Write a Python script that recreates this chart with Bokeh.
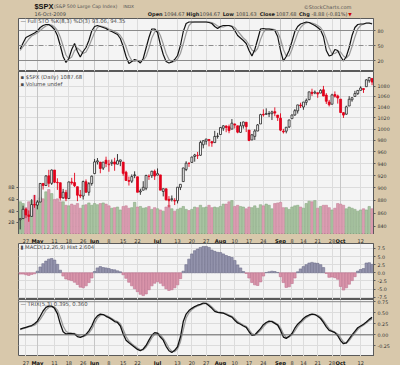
import numpy as np
from bokeh.plotting import figure
from bokeh.layouts import column
from bokeh.models import (Range1d, LinearScale, LinearAxis, FixedTicker, Grid, Span,
                          Label, ColumnDataSource, PrintfTickFormatter)
from bokeh.core.properties import value
from bokeh.embed import file_html
from bokeh.resources import INLINE

# ---------------- data (23-Apr-2009 .. 16-Oct-2009, daily) ----------------
bar_index = list(range(-2, 122))

opens = [850.1, 851.9, 866.2, 857.5, 855.2, 873.6, 872.7, 877.5, 907.2, 903.8,
         919.6, 907.4, 929.2, 909.0, 908.4, 884.2, 892.8, 883.0, 909.7, 908.6,
         901.9, 888.7, 887.0, 909.9, 893.0, 907.0, 923.3, 942.9, 942.5, 932.5,
         945.7, 938.1, 940.4, 942.7, 939.0, 943.4, 942.5, 925.6, 911.9, 910.9,
         920.0, 918.1, 893.5, 896.3, 899.5, 918.8, 919.9, 927.2, 920.8, 921.2,
         894.3, 898.6, 881.9, 881.3, 880.0, 879.6, 900.8, 910.2, 930.2, 940.6,
         942.1, 952.0, 953.4, 954.1, 972.2, 978.6, 981.5, 977.7, 976.0, 986.8,
         990.2, 1001.4, 1005.4, 1004.1, 999.8, 1008.9, 1005.8, 994.0, 1005.9, 1012.2,
         998.2, 980.6, 986.9, 996.4, 1009.1, 1026.6, 1026.6, 1027.4, 1027.8, 1031.6,
         1025.2, 1019.5, 996.1, 996.1, 1003.8, 1018.7, 1025.4, 1033.0, 1043.9, 1040.2,
         1049.0, 1054.0, 1067.9, 1066.6, 1067.1, 1066.4, 1072.7, 1062.6, 1049.5, 1045.4,
         1063.7, 1061.0, 1054.9, 1029.7, 1026.9, 1042.0, 1053.7, 1060.0, 1065.3, 1071.6,
         1075.0, 1078.7, 1090.4, 1094.7]

highs = [852.0, 871.8, 868.3, 864.5, 882.1, 888.7, 880.5, 907.9, 907.7, 920.3,
         929.6, 930.2, 929.2, 915.6, 908.4, 898.4, 896.9, 910.0, 916.4, 924.6,
         901.9, 896.7, 911.8, 913.8, 909.5, 920.0, 947.8, 949.4, 942.5, 942.5,
         951.7, 946.3, 946.9, 949.8, 956.2, 946.3, 942.5, 928.0, 918.4, 922.0,
         927.1, 918.1, 898.7, 910.9, 921.4, 922.0, 928.0, 930.0, 931.9, 921.2,
         898.7, 898.6, 886.8, 887.9, 883.6, 901.1, 905.8, 933.0, 944.0, 941.9,
         951.6, 956.5, 959.8, 979.4, 979.8, 982.5, 982.2, 977.8, 996.7, 993.2,
         1003.6, 1007.1, 1006.6, 1008.0, 1018.0, 1010.1, 1005.8, 1012.8, 1013.1, 1012.6,
         998.2, 991.2, 999.6, 1008.9, 1027.6, 1035.8, 1037.8, 1032.5, 1033.3, 1039.5,
         1025.2, 1028.5, 1000.3, 1003.4, 1016.5, 1026.1, 1036.3, 1044.1, 1048.2, 1049.7,
         1056.0, 1068.8, 1074.8, 1071.5, 1067.3, 1073.8, 1080.2, 1066.3, 1053.5, 1065.1,
         1069.6, 1063.4, 1054.9, 1030.6, 1042.6, 1060.6, 1058.0, 1070.7, 1071.5, 1079.5,
         1075.3, 1093.2, 1096.6, 1094.7]

lows = [835.6, 851.9, 852.7, 847.1, 855.2, 868.5, 866.1, 877.5, 897.3, 903.8,
        901.4, 904.8, 907.8, 896.8, 879.9, 882.5, 878.9, 883.0, 905.2, 901.4,
        878.9, 883.8, 881.5, 891.9, 887.6, 903.6, 923.3, 938.5, 923.9, 929.3,
        934.1, 926.4, 936.2, 928.0, 939.0, 935.7, 919.7, 911.6, 903.8, 907.9,
        915.8, 893.0, 888.9, 896.3, 896.3, 913.0, 916.2, 912.9, 920.8, 896.4,
        886.4, 879.9, 869.3, 878.4, 872.8, 875.3, 896.5, 910.2, 927.5, 934.5,
        941.0, 943.2, 947.8, 953.3, 966.0, 972.3, 969.4, 968.7, 976.0, 982.9,
        990.2, 996.7, 994.3, 992.5, 999.8, 1001.0, 992.4, 993.4, 1000.8, 994.6,
        978.5, 980.6, 980.6, 996.4, 1009.1, 1022.5, 1026.2, 1021.6, 1016.2, 1023.1,
        1014.6, 996.3, 992.0, 992.3, 1001.7, 1018.7, 1024.0, 1028.0, 1038.4, 1035.0,
        1043.4, 1052.9, 1061.0, 1064.3, 1057.5, 1066.4, 1060.4, 1045.9, 1041.2, 1045.4,
        1057.8, 1046.5, 1029.5, 1020.0, 1025.9, 1042.0, 1050.1, 1060.0, 1063.0, 1071.6,
        1066.7, 1078.7, 1086.4, 1081.6]

closes = [851.9, 866.2, 857.5, 855.2, 873.6, 872.8, 877.5, 907.2, 903.8, 919.5,
          907.4, 929.2, 909.2, 908.4, 883.9, 893.1, 882.9, 909.7, 908.1, 903.5,
          888.3, 887.0, 910.3, 893.1, 906.8, 919.1, 942.9, 944.7, 931.8, 942.5,
          940.1, 939.1, 942.4, 939.2, 944.9, 946.2, 923.7, 912.0, 910.7, 918.4,
          921.2, 893.0, 895.1, 900.9, 920.3, 918.9, 927.2, 919.3, 923.3, 896.4,
          898.7, 881.0, 879.6, 882.7, 879.1, 901.1, 905.8, 932.7, 940.7, 940.4,
          951.1, 954.6, 954.1, 976.3, 979.3, 982.2, 979.6, 975.2, 986.8, 987.5,
          1002.6, 1005.7, 1002.7, 997.1, 1010.5, 1007.1, 994.4, 1005.8, 1012.7, 1004.1,
          979.7, 989.7, 996.5, 1007.4, 1026.1, 1025.6, 1028.0, 1028.1, 1031.0, 1028.9,
          1020.6, 998.0, 994.8, 1003.2, 1016.4, 1025.4, 1033.4, 1044.1, 1042.7, 1049.3,
          1052.6, 1068.8, 1065.5, 1068.3, 1064.7, 1071.7, 1060.9, 1050.8, 1044.4, 1063.0,
          1060.6, 1057.1, 1029.9, 1025.2, 1040.5, 1054.7, 1057.6, 1065.5, 1071.5, 1076.2,
          1073.2, 1092.0, 1096.6, 1087.7]
prev_close_first = 850.1

volumes_b = [5.6, 5.3, 4.6, 5.6, 5.8, 6.7, 5.6, 6.3, 6.1, 7.3,
             7.7, 7.0, 6.0, 6.1, 5.6, 5.6, 5.0, 4.9, 5.2, 5.0,
             5.3, 4.5, 5.0, 5.1, 5.4, 5.0, 5.3, 5.1, 5.3, 5.4,
             5.2, 4.9, 4.5, 4.6, 4.7, 4.2, 4.8, 4.9, 4.5, 4.6,
             5.5, 4.7, 4.8, 4.5, 4.6, 4.8, 4.3, 4.6, 4.4, 4.2,
             4.0, 4.7, 5.0, 4.4, 4.0, 4.3, 4.5, 4.8, 4.3, 4.1,
             4.3, 4.7, 4.6, 5.0, 4.6, 4.7, 5.0, 4.6, 4.7, 4.6,
             4.8, 5.2, 5.2, 5.6, 5.8, 4.8, 5.0, 4.8, 4.7, 4.4,
             4.7, 4.6, 4.9, 4.5, 5.1, 4.9, 5.2, 5.0, 4.4, 5.3,
             5.4, 5.5, 4.6, 4.6, 4.3, 4.7, 4.9, 5.0, 4.7, 4.5,
             5.3, 5.7, 5.6, 5.8, 4.5, 4.8, 5.0, 5.0, 4.6, 4.2,
             4.5, 5.3, 5.2, 5.0, 4.4, 4.7, 4.5, 4.3, 4.0, 4.2,
             4.4, 4.2, 4.8, 4.4]

sto_k = [43, 55, 66, 69, 72, 75, 79, 86, 90, 92,
         92, 88, 82, 70, 50, 28, 16, 24, 42, 54,
         38, 27, 38, 46, 60, 79, 88, 90, 88, 86,
         84, 80, 78, 75, 72, 64, 48, 28, 14, 18,
         22, 20, 15, 24, 45, 66, 83, 83, 76, 52,
         32, 18, 15, 17, 22, 30, 50, 78, 94, 97,
         97, 97, 97, 97, 97, 97, 96, 94, 88, 84,
         88, 90, 90, 90, 88, 80, 70, 65, 60, 54,
         40, 29, 42, 62, 83, 84, 83, 83, 82, 80,
         68, 40, 19, 28, 40, 58, 78, 88, 93, 95,
         97, 96, 93, 90, 86, 81, 68, 40, 29, 31,
         42, 40, 28, 19, 28, 46, 70, 86, 92, 93,
         93, 95, 95, 93.06]

sto_d = [40, 48, 55, 63, 69, 72, 75, 80, 85, 89,
         91, 91, 87, 80, 67, 49, 31, 23, 27, 40,
         45, 40, 34, 37, 48, 62, 76, 86, 89, 88,
         86, 83, 81, 78, 75, 70, 61, 47, 30, 20,
         18, 20, 19, 20, 28, 45, 65, 77, 81, 70,
         53, 34, 22, 17, 18, 23, 34, 53, 74, 90,
         96, 97, 97, 97, 97, 97, 97, 96, 93, 89,
         87, 87, 89, 90, 89, 86, 79, 72, 65, 60,
         51, 41, 37, 44, 62, 76, 83, 83, 83, 82,
         77, 63, 42, 29, 29, 42, 59, 75, 86, 92,
         95, 96, 95, 93, 90, 86, 78, 63, 46, 33,
         34, 38, 37, 29, 25, 31, 48, 67, 83, 90,
         93, 94, 94.3, 94.35]

macd_hist = [-0.4, -0.4, -0.6, -0.8, -0.5, -0.3, 0.5, 1.8, 2.8, 3.6,
             4.2, 4.4, 3.9, 2.6, 0.8, -1.0, -1.9, -2.2, -2.4, -2.9,
             -3.6, -4.4, -4.6, -4.0, -3.0, -1.6, 0.4, 1.5, 1.9, 1.6,
             1.5, 1.3, 1.0, 0.9, 0.6, 0.3, -0.6, -1.7, -2.9, -4.0,
             -4.9, -5.8, -6.6, -7.0, -6.5, -5.2, -4.0, -3.2, -2.7, -3.2,
             -4.0, -4.9, -5.4, -5.2, -4.6, -3.7, -1.8, 0.5, 2.5, 4.2,
             5.8, 6.8, 7.3, 7.8, 8.1, 8.1, 7.8, 7.0, 6.6, 6.3,
             6.2, 5.8, 5.3, 5.0, 4.7, 3.8, 2.4, 1.5, 0.4, -0.2,
             -1.6, -3.0, -3.7, -3.9, -2.8, -1.0, 0.1, 0.3, 0.5, 0.4,
             0.1, -1.2, -3.0, -4.5, -4.3, -3.3, -1.6, 0.3, 1.2, 1.9,
             2.5, 3.0, 3.2, 3.0, 2.9, 2.5, 1.6, -0.2, -1.4, -1.3,
             -1.5, -2.0, -4.2, -5.3, -4.6, -3.5, -2.4, -1.2, 0.5, 1.0,
             1.3, 3.0, 3.1, 2.604]

trix = [0.13, 0.15, 0.17, 0.19, 0.21, 0.25, 0.31, 0.42, 0.54, 0.62,
        0.65, 0.65, 0.60, 0.48, 0.25, 0.07, 0.02, 0.03, 0.03, 0.02,
        -0.04, -0.06, -0.03, 0.01, 0.09, 0.20, 0.35, 0.43, 0.47, 0.46,
        0.42, 0.39, 0.35, 0.30, 0.28, 0.20, 0.02, -0.12, -0.18, -0.23,
        -0.28, -0.33, -0.36, -0.32, -0.24, -0.12, -0.01, 0.05, 0.04, -0.05,
        -0.12, -0.26, -0.36, -0.40, -0.35, -0.27, -0.05, 0.30, 0.47, 0.55,
        0.60, 0.64, 0.67, 0.69, 0.72, 0.71, 0.66, 0.60, 0.53, 0.51,
        0.50, 0.49, 0.46, 0.43, 0.40, 0.33, 0.27, 0.24, 0.20, 0.17,
        0.07, -0.01, 0.00, 0.07, 0.14, 0.23, 0.28, 0.31, 0.30, 0.26,
        0.22, 0.10, -0.05, -0.08, -0.03, 0.03, 0.15, 0.24, 0.30, 0.37,
        0.42, 0.45, 0.47, 0.46, 0.42, 0.37, 0.28, 0.18, 0.10, 0.08,
        0.05, -0.02, -0.13, -0.20, -0.18, -0.09, 0.00, 0.08, 0.16, 0.20,
        0.24, 0.29, 0.35, 0.395]

trix_signal = [0.12, 0.14, 0.16, 0.18, 0.20, 0.22, 0.27, 0.35, 0.45, 0.56,
               0.62, 0.64, 0.63, 0.56, 0.40, 0.20, 0.08, 0.04, 0.03, 0.03,
               0.00, -0.04, -0.04, -0.01, 0.04, 0.13, 0.26, 0.38, 0.44, 0.46,
               0.44, 0.41, 0.37, 0.33, 0.30, 0.25, 0.12, -0.04, -0.14, -0.20,
               -0.25, -0.30, -0.34, -0.34, -0.28, -0.18, -0.07, 0.01, 0.04, 0.00,
               -0.08, -0.18, -0.30, -0.37, -0.38, -0.32, -0.16, 0.12, 0.38, 0.50,
               0.57, 0.62, 0.65, 0.68, 0.70, 0.71, 0.69, 0.63, 0.57, 0.52,
               0.51, 0.50, 0.48, 0.45, 0.42, 0.37, 0.30, 0.26, 0.22, 0.19,
               0.12, 0.03, 0.00, 0.04, 0.10, 0.18, 0.25, 0.29, 0.31, 0.28,
               0.24, 0.16, 0.02, -0.06, -0.05, 0.00, 0.09, 0.19, 0.27, 0.33,
               0.39, 0.43, 0.46, 0.46, 0.44, 0.40, 0.32, 0.23, 0.14, 0.09,
               0.06, 0.02, -0.07, -0.16, -0.19, -0.13, -0.04, 0.04, 0.12, 0.18,
               0.22, 0.27, 0.32, 0.36]

day_tick_index = [0, 10, 15, 20, 29, 34, 39, 53, 58, 63, 73, 78, 83, 93, 97, 102, 107, 117]
day_tick_text = ["27", "11", "18", "26", "8", "15", "22", "13", "20", "27", "10", "17", "24",
                 "8", "14", "21", "28", "12"]
month_tick_index = [4, 24, 46, 68, 89, 110]
month_tick_text = ["May", "Jun", "Jul", "Aug", "Sep", "Oct"]

price_ticks = [840, 860, 880, 900, 920, 940, 960, 980, 1000, 1020, 1040, 1060, 1080]
volume_ticks = [2, 4, 6, 8]
sto_levels = [20, 50, 80]
macd_ticks = [-7.5, -5.0, -2.5, 0.0, 2.5, 5.0, 7.5]
trix_ticks = [-0.25, 0.0, 0.25, 0.5, 0.75]

n = len(bar_index)
for arr in (opens, highs, lows, closes, volumes_b, sto_k, sto_d, macd_hist, trix, trix_signal):
    assert len(arr) == n, len(arr)

# ---------------- styling ----------------
TAN = "#d8c8ab"
PLOT_BG = "#f4f4f4"
GRID = "#dcdcdc"
MONTH_GRID = "#c6c6c6"
FRAME = "#5a5a5a"
FONT = "DejaVu Sans"
TXT = "#333333"

XR = Range1d(-2.6, 121.5)


def style_axis(ax):
    ax.major_label_text_font = FONT
    ax.major_label_text_font_size = "4.8px"
    ax.major_label_text_color = TXT
    ax.major_tick_in = 0
    ax.major_tick_out = 2
    ax.minor_tick_line_color = None
    ax.major_tick_line_color = FRAME
    ax.axis_line_color = FRAME
    ax.major_label_standoff = 2


def panel(h, y_range, y_type="linear"):
    p = figure(width=400, height=h, x_range=XR, y_range=y_range, y_axis_type=y_type,
               x_axis_location=None, y_axis_location="right", toolbar_location=None,
               output_backend="svg", min_border_left=18, min_border_right=27,
               min_border_top=0, min_border_bottom=0, title=None)
    p.border_fill_color = TAN
    p.background_fill_color = PLOT_BG
    p.outline_line_color = FRAME
    p.outline_line_width = 1
    for g in p.xgrid:
        g.visible = False
    p.add_layout(Grid(dimension=0, ticker=FixedTicker(ticks=day_tick_index),
                      grid_line_color=GRID, grid_line_width=1))
    p.add_layout(Grid(dimension=0, ticker=FixedTicker(ticks=month_tick_index),
                      grid_line_color=MONTH_GRID, grid_line_width=1))
    p.ygrid.grid_line_color = GRID
    style_axis(p.yaxis[0])
    return p


def date_strip(h):
    d = figure(width=400, height=h, x_range=XR, y_range=Range1d(0, 1),
               x_axis_location=None, y_axis_location=None, toolbar_location=None,
               output_backend="svg", min_border_left=18, min_border_right=27,
               min_border_top=0, min_border_bottom=0, title=None)
    d.border_fill_color = TAN
    d.background_fill_color = TAN
    d.outline_line_color = None
    d.grid.visible = False
    ypos = h / 2.0 + 1.3
    for i, t in zip(day_tick_index, day_tick_text):
        d.add_layout(Label(x=i, y=ypos, y_units="screen", text=t, text_font=FONT,
                           text_font_size="5.0px", text_color="#333333",
                           text_align="center", text_baseline="middle"))
    for i, t in zip(month_tick_index, month_tick_text):
        d.add_layout(Label(x=i, y=ypos, y_units="screen", text=t, text_font=FONT,
                           text_font_size="5.2px", text_font_style="bold",
                           text_color="#111111", text_align="center", text_baseline="middle"))
    return d


def legend_label(p, y, text):
    p.add_layout(Label(x=2, y=y, x_units="screen", y_units="screen", text=text,
                       text_font=FONT, text_font_size="5.3px", text_color="#4a4a4a",
                       text_baseline="middle"))


def value_box(p, y, text, y_range_name="default"):
    p.add_layout(Label(x=357, y=y, x_units="screen", text=text, y_range_name=y_range_name,
                       text_font=FONT, text_font_size="4.8px", text_color="#111111",
                       text_baseline="middle", background_fill_color="white",
                       border_line_color="#222222", border_line_width=0.7, padding=1))


# ---------------- header ----------------
hdr = figure(width=400, height=18, x_range=Range1d(0, 400), y_range=Range1d(18, 0),
             x_axis_location=None, y_axis_location=None, toolbar_location=None,
             output_backend="svg", min_border=0, title=None)
hdr.border_fill_color = TAN
hdr.background_fill_color = TAN
hdr.outline_line_color = None
hdr.grid.visible = False


def htext(x, y, t, size="5.0px", bold=False, color="#222222", align="left", font=FONT):
    hdr.text(x=[x], y=[y], text=[t], text_font=value(font), text_font_size=size,
             text_font_style="bold" if bold else "normal", text_color=color,
             text_align=align, text_baseline="middle")


htext(18, 6.2, "$SPX", size="7.4px", bold=True, color="#111111", font="Liberation Sans")
htext(40, 6.2, "(S&P 500 Large Cap Index)", size="4.7px", color="#555555")
htext(118, 6.2, "INDX", size="4.3px", color="#555555")
htext(375, 6.2, "©StockCharts.com", size="5.0px", color="#555555", align="right")
htext(18, 13.6, "16-Oct-2009", size="5.0px", color="#444444")
htext(145.7, 13.6, "Open", bold=True)
htext(164, 13.6, "1094.67", color="#444444")
htext(189, 13.6, "High", bold=True)
htext(204, 13.6, "1094.67", color="#444444")
htext(230, 13.6, "Low", bold=True)
htext(245, 13.6, "1081.63", color="#444444")
htext(271.7, 13.6, "Close", bold=True)
htext(290, 13.6, "1087.68", color="#444444")
htext(316, 13.6, "Chg", bold=True)
htext(330, 13.6, "-8.88 (-0.81%)", color="#444444")
htext(371.5, 13.6, "▼", size="4.5px", color="#cc0000")

# ---------------- STO panel ----------------
sto = panel(53, Range1d(-2, 104))
sto.yaxis.ticker = FixedTicker(ticks=sto_levels)
sto.ygrid.visible = False
for lvl in sto_levels:
    if lvl == 50:
        sto.add_layout(Span(location=lvl, dimension="width", line_color="#8c8c8c",
                            line_width=1, line_dash="5 2 1 2"))
    else:
        sto.add_layout(Span(location=lvl, dimension="width", line_color="#8a8a8a", line_width=1))
sto.line(bar_index, sto_d, line_color="#9a9a9a", line_width=1.2)
sto.line(bar_index, sto_k, line_color="#111111", line_width=1.2)
legend_label(sto, 50.3, "— Full STO %K(8,3) %D(3) 93.06, 94.35")
value_box(sto, sto_k[-1], "93.06")

# ---------------- price + volume panel ----------------
up_day = []
prev = prev_close_first
for c in closes:
    up_day.append(c >= prev)
    prev = c

vol_src = ColumnDataSource(dict(
    x=bar_index, v=volumes_b,
    fill=["#a9c4a2" if u else "#dc9db2" for u in up_day],
    line=["#8bab85" if u else "#c7849b" for u in up_day]))

candle_col = ["#222222" if u else "#e2001a" for u in up_day]
body_fill = [("white" if c >= o else col) for o, c, col in zip(opens, closes, candle_col)]
cdl_src = ColumnDataSource(dict(
    x=bar_index, o=opens, h=highs, l=lows, c=closes,
    top=[max(o, c) for o, c in zip(opens, closes)],
    bot=[min(o, c) for o, c in zip(opens, closes)],
    col=candle_col, fill=body_fill))

price = panel(163, Range1d(828, 1108.4), y_type="log")
price.yaxis.ticker = FixedTicker(ticks=price_ticks)
price.yaxis.formatter = PrintfTickFormatter(format="%d")
price.extra_y_ranges = {"vol": Range1d(0, 27.9)}
price.extra_y_scales = {"vol": LinearScale()}
vax = LinearAxis(y_range_name="vol", ticker=FixedTicker(ticks=volume_ticks),
                 formatter=PrintfTickFormatter(format="%dB"))
style_axis(vax)
price.add_layout(vax, "left")

price.vbar(x="x", top="v", bottom=0, width=0.85, source=vol_src, y_range_name="vol",
           fill_color="fill", line_color="line", line_width=0.6)
price.segment(x0="x", y0="l", x1="x", y1="h", source=cdl_src, line_color="col", line_width=0.9)
price.vbar(x="x", top="top", bottom="bot", width=0.68, source=cdl_src,
           fill_color="fill", line_color="col", line_width=0.8)
legend_label(price, 157.3, "▪ $SPX (Daily) 1087.68")
legend_label(price, 150.7, "▪ Volume undef")
value_box(price, closes[-1], "1087.68")
value_box(price, volumes_b[-1], "5611583", y_range_name="vol")

dates1 = date_strip(9)

# ---------------- MACD panel ----------------
macd_src = ColumnDataSource(dict(
    x=bar_index, h=macd_hist,
    fill=["#9494ad" if v >= 0 else "#d995aa" for v in macd_hist],
    line=["#6f6f8c" if v >= 0 else "#c07390" for v in macd_hist]))
macd = panel(56, Range1d(-8.2, 9.0))
macd.yaxis.ticker = FixedTicker(ticks=macd_ticks)
macd.yaxis.formatter = PrintfTickFormatter(format="%.1f")
macd.vbar(x="x", top="h", bottom=0, width=0.9, source=macd_src,
          fill_color="fill", line_color="line", line_width=0.6)
legend_label(macd, 52.3, "▮ MACD(12,26,9) Hist 2.604")
value_box(macd, macd_hist[-1], "2.604")

# ---------------- TRIX panel ----------------
trx = panel(57, Range1d(-0.49, 0.80))
trx.yaxis.ticker = FixedTicker(ticks=trix_ticks)
trx.yaxis.formatter = PrintfTickFormatter(format="%.2f")
trx.add_layout(Span(location=0, dimension="width", line_color="#666666", line_width=1))
trx.add_layout(Span(location=0.75, dimension="width", line_color="#888888", line_width=1))
trx.line(bar_index, trix_signal, line_color="#9a9a9a", line_width=1.3)
trx.line(bar_index, trix, line_color="#111111", line_width=1.3)
legend_label(trx, 52.7, "— TRIX(5,3) 0.395, 0.360")
value_box(trx, trix[-1], "0.395")

dates2 = date_strip(9)

layout = column(hdr, sto, price, dates1, macd, trx, dates2, spacing=0)

html = file_html(layout, INLINE, "SPX")
html = html.replace("<head>", "<head><style>html,body{margin:0;padding:0;background:%s;overflow:hidden}</style>" % TAN, 1)
open("out.html", "w").write(html)
